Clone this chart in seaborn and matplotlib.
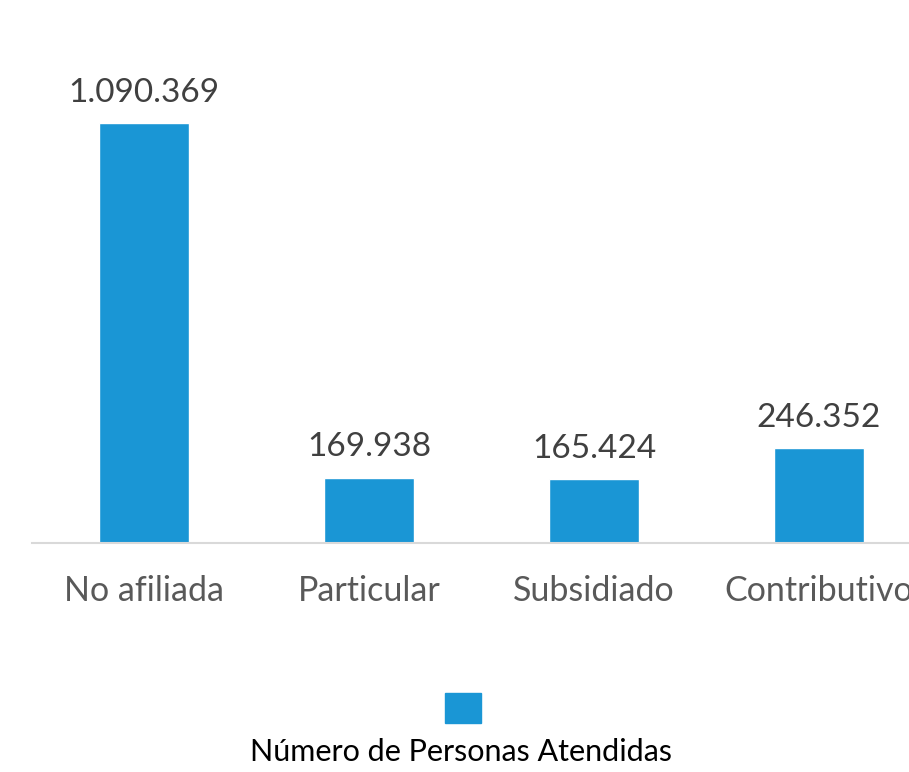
import matplotlib
matplotlib.use("Agg")
import matplotlib.pyplot as plt
import matplotlib.patches as mpatches
import seaborn as sns

# Datos
categorias = ["No afiliada", "Particular", "Subsidiado", "Contributivo"]
personas = [1090369, 169938, 165424, 246352]
etiquetas = ["1.090.369", "169.938", "165.424", "246.352"]
serie = "Número de Personas Atendidas"

AZUL = "#1A96D5"

sns.set_theme(style="white")
plt.rcParams["font.family"] = ["Lato", "DejaVu Sans"]

fig = plt.figure(figsize=(9.09, 7.72), dpi=100)
ax = fig.add_axes([31.5 / 909, 229 / 772, 900 / 909, 462 / 772])

sns.barplot(x=categorias, y=personas, color=AZUL, width=0.4, saturation=1, ax=ax)

ax.set_ylim(0, 1200000)
ax.set_xlim(-0.5, 3.5)
ax.set_xlabel("")
ax.set_ylabel("")
ax.set_yticks([])
for lado in ["top", "right", "left"]:
    ax.spines[lado].set_visible(False)
ax.spines["bottom"].set_color("#D9D9D9")
ax.spines["bottom"].set_linewidth(1.5)
ax.tick_params(axis="x", length=0, pad=23, labelsize=24.5, labelcolor="#595959")

for i, (v, txt) in enumerate(zip(personas, etiquetas)):
    ax.annotate(txt, (i, v), xytext=(0, 11), textcoords="offset points",
                ha="center", va="bottom", fontsize=24, color="#404040",
                clip_on=False)

# Leyenda: cuadro arriba, texto abajo
parche = mpatches.Patch(color=AZUL)
fig.legend(handles=[parche], labels=[""], loc="center", fontsize=20,
           bbox_to_anchor=(463 / 909, 1 - 708 / 772), frameon=False,
           handlelength=1.3, handleheight=1.3, handletextpad=0, borderpad=0)
fig.text(461 / 909, 1 - 752 / 772, serie, ha="center", va="center",
         fontsize=22, color="#000000")

fig.savefig("out.png", dpi=100)
